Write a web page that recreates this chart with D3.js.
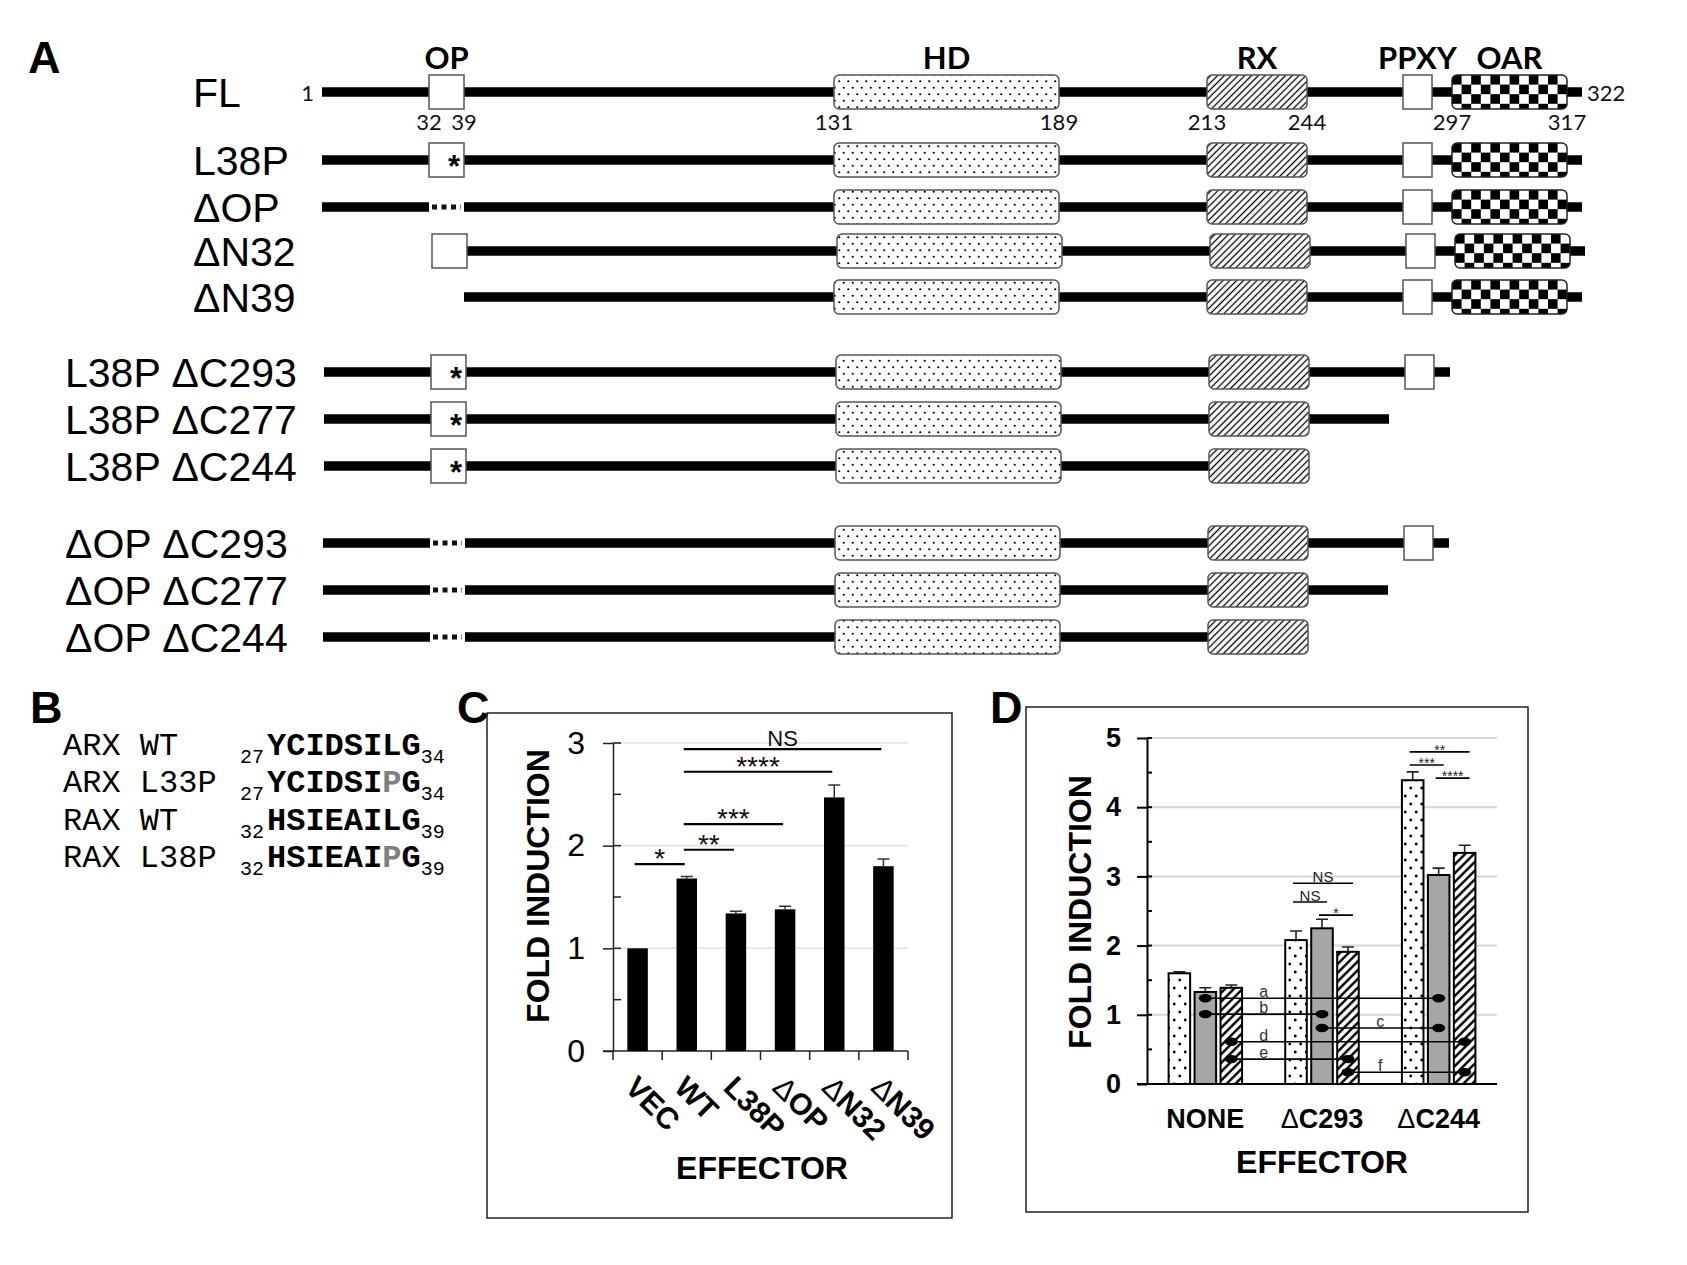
<!DOCTYPE html>
<html>
<head>
<meta charset="utf-8">
<script src="https://cdn.jsdelivr.net/npm/d3@7"></script>
<style>
  body { margin: 0; background: #fff; }
  svg { display: block; }
</style>
</head>
<body>
<div id="fig"></div>
<script>
// ---------- Panel A: constructs ----------
const DOMAIN_KEYS = ["OP", "HD", "RX", "PPXY", "OAR"];
const DOMAIN_START = [32, 131, 213, 284, 297];
const DOMAIN_END = [39, 189, 244, 291, 317];
const RESIDUE_MARKS = [32, 39, 131, 189, 213, 244, 297, 317];
const PROTEIN_FIRST = 1;
const PROTEIN_LAST = 322;

const CONSTRUCT_NAMES = [
  "FL", "L38P", "ΔOP", "ΔN32", "ΔN39",
  "L38P ΔC293", "L38P ΔC277", "L38P ΔC244",
  "ΔOP ΔC293", "ΔOP ΔC277", "ΔOP ΔC244",
];
const CONSTRUCT_START = [1, 1, 1, 32, 39, 1, 1, 1, 1, 1, 1];
const CONSTRUCT_END = [322, 322, 322, 322, 322, 293, 277, 244, 293, 277, 244];
// OP state: wt box, L38P box with *, deleted (dotted), none
const CONSTRUCT_OP = ["wt", "L38P", "del", "wt", "none", "L38P", "L38P", "L38P", "del", "del", "del"];

// ---------- Panel B: sequences ----------
const B_NAMES = ["ARX WT", "ARX L33P", "RAX WT", "RAX L38P"];
const B_FIRST = ["27", "27", "32", "32"];
const B_LAST = ["34", "34", "39", "39"];
const B_SEQ = ["YCIDSILG", "YCIDSIPG", "HSIEAILG", "HSIEAIPG"];
const B_MUTATED = [-1, 6, -1, 6];

// ---------- Panel C ----------
const C_CATEGORIES = ["VEC", "WT", "L38P", "ΔOP", "ΔN32", "ΔN39"];
const C_VALUES = [1.0, 1.68, 1.34, 1.38, 2.47, 1.80];
const C_ERRORS = [0.0, 0.02, 0.02, 0.03, 0.12, 0.07];
const C_SIG_FROM = ["VEC", "WT", "WT", "WT", "WT"];
const C_SIG_TO = ["WT", "L38P", "ΔOP", "ΔN32", "ΔN39"];
const C_SIG_LEVEL = [1.82, 1.96, 2.21, 2.72, 2.94];
const C_SIG_LABEL = ["*", "**", "***", "****", "NS"];

// ---------- Panel D ----------
const D_GROUPS = ["NONE", "ΔC293", "ΔC244"];
const D_SERIES = ["dotted", "gray", "hatched"];
const D_VALUES = [
  [1.60, 1.33, 1.39],
  [2.08, 2.25, 1.91],
  [4.39, 3.02, 3.34],
];
const D_ERRORS = [
  [0.02, 0.06, 0.04],
  [0.13, 0.13, 0.07],
  [0.12, 0.10, 0.11],
];
const D_SIG_GROUP = ["ΔC293", "ΔC293", "ΔC293", "ΔC244", "ΔC244", "ΔC244"];
const D_SIG_A = ["dotted", "dotted", "gray", "dotted", "dotted", "gray"];
const D_SIG_B = ["hatched", "gray", "hatched", "hatched", "gray", "hatched"];
const D_SIG_LEVEL = [2.90, 2.63, 2.44, 4.80, 4.61, 4.42];
const D_SIG_LABEL = ["NS", "NS", "*", "**", "***", "****"];
const D_LINK_LABEL = ["a", "b", "c", "d", "e", "f"];
const D_LINK_SERIES = ["gray", "gray", "gray", "hatched", "hatched", "hatched"];
const D_LINK_FROM = ["NONE", "NONE", "ΔC293", "NONE", "NONE", "ΔC293"];
const D_LINK_TO = ["ΔC244", "ΔC293", "ΔC244", "ΔC244", "ΔC293", "ΔC244"];
const D_LINK_LEVEL = [1.24, 1.01, 0.81, 0.61, 0.36, 0.17];

// ---------- layout ----------
const W = 1687, H = 1265;
const SANS = "'Liberation Sans', Arial, sans-serif";
const CAL = "Lato, 'Open Sans', sans-serif";
const MONO = "'Liberation Mono', 'Courier New', monospace";

const ROW_Y = [92, 160, 207, 251, 297, 372, 419, 466, 543, 590, 637];
const ROW_DX = [0, 0, 0, 3, 0, 2, 2, 2, 1, 1, 1];
const LABEL_X = [193, 193, 193, 193, 193, 65, 65, 65, 65, 65, 65];

const svg = d3.select("#fig").append("svg")
  .attr("width", W).attr("height", H)
  .attr("viewBox", `0 0 ${W} ${H}`);
const defs = svg.append("defs");

// patterns
function dotPattern(id, w, h, r) {
  const p = defs.append("pattern").attr("id", id)
    .attr("patternUnits", "userSpaceOnUse").attr("width", w).attr("height", h);
  p.append("rect").attr("width", w).attr("height", h).attr("fill", "#fff");
  p.append("circle").attr("cx", w * 0.25).attr("cy", h * 0.25).attr("r", r).attr("fill", "#000");
  p.append("circle").attr("cx", w * 0.75).attr("cy", h * 0.75).attr("r", r).attr("fill", "#000");
}
function hatchPattern(id, gap, lw) {
  const p = defs.append("pattern").attr("id", id)
    .attr("patternUnits", "userSpaceOnUse").attr("width", gap).attr("height", gap)
    .attr("patternTransform", "rotate(45)");
  p.append("rect").attr("width", gap).attr("height", gap).attr("fill", "#fff");
  p.append("line").attr("x1", gap / 2).attr("x2", gap / 2).attr("y1", 0).attr("y2", gap)
    .attr("stroke", "#000").attr("stroke-width", lw);
}
dotPattern("dotsA", 9, 13, 1.1);
hatchPattern("hatchA", 4.8, 1.3);
dotPattern("dotsD", 11, 16, 1.4);
hatchPattern("hatchD", 6.2, 2.4);

function checkerPattern(id, x, y, s) {
  const p = defs.append("pattern").attr("id", id)
    .attr("patternUnits", "userSpaceOnUse")
    .attr("x", x).attr("y", y).attr("width", 2 * s).attr("height", 2 * s);
  p.append("rect").attr("width", 2 * s).attr("height", 2 * s).attr("fill", "#fff");
  p.append("rect").attr("width", s).attr("height", s).attr("fill", "#000");
  p.append("rect").attr("x", s).attr("y", s).attr("width", s).attr("height", s).attr("fill", "#000");
}

// panel letters
[["A", 28, 73], ["B", 30, 723], ["C", 457, 723], ["D", 990, 723]].forEach(([t, x, y]) => {
  svg.append("text").attr("x", x).attr("y", y).text(t)
    .attr("font-family", SANS).attr("font-weight", "bold").attr("font-size", 45);
});

// ================= Panel A =================
// schematic (not-to-scale) residue -> x mapping
const xRes = d3.scaleLinear()
  .domain([1, 32, 39, 131, 189, 213, 244, 277, 284, 291, 293, 297, 317, 322])
  .range([322, 429, 464, 834, 1059, 1207, 1307, 1387, 1403, 1432, 1448, 1452, 1567, 1582]);

const gA = svg.append("g");
const BOX_H = 34;

CONSTRUCT_NAMES.forEach((name, i) => {
  const y = ROW_Y[i];
  const x = (r) => xRes(r) + ROW_DX[i];
  const s = CONSTRUCT_START[i], e = CONSTRUCT_END[i], op = CONSTRUCT_OP[i];
  const g = gA.append("g");

  const seg = (a, b) => g.append("line")
    .attr("x1", x(a)).attr("x2", x(b)).attr("y1", y).attr("y2", y)
    .attr("stroke", "#000").attr("stroke-width", 9.5);

  if (op === "del") {
    seg(s, 32);
    g.append("line")
      .attr("x1", x(32) + 3).attr("x2", x(39) - 3).attr("y1", y).attr("y2", y)
      .attr("stroke", "#111").attr("stroke-width", 5)
      .attr("stroke-dasharray", "5,4.5");
    seg(39, e);
  } else {
    seg(s, e);
  }

  DOMAIN_KEYS.forEach((key, k) => {
    const ds = DOMAIN_START[k], de = DOMAIN_END[k];
    if (ds < s || de > e) return;
    if (key === "OP" && (op === "del" || op === "none")) return;
    const bx = x(ds), bw = x(de) - x(ds), by = y - BOX_H / 2;
    let fill = "#fff", rx = 0, stroke = "#555";
    if (key === "HD") { fill = "url(#dotsA)"; rx = 5; }
    if (key === "RX") { fill = "url(#hatchA)"; rx = 5; }
    if (key === "OAR") {
      checkerPattern(`chk${i}`, bx, by, 9.6);
      fill = `url(#chk${i})`; rx = 5; stroke = "#222";
    }
    g.append("rect").attr("x", bx).attr("y", by).attr("width", bw).attr("height", BOX_H)
      .attr("rx", rx).attr("fill", fill).attr("stroke", stroke).attr("stroke-width", 1.5);
    if (key === "OP" && op === "L38P") {
      g.append("text").attr("x", x(de) - 10).attr("y", y + 17).text("*")
        .attr("text-anchor", "middle").attr("font-family", SANS)
        .attr("font-weight", "bold").attr("font-size", 31);
    }
  });

  g.append("text").attr("x", LABEL_X[i]).attr("y", y + 15).text(name)
    .attr("font-family", SANS).attr("font-size", 41).attr("fill", "#000");

  if (i === 0) {
    // domain titles
    DOMAIN_KEYS.forEach((key, k) => {
      g.append("text")
        .attr("x", (x(DOMAIN_START[k]) + x(DOMAIN_END[k])) / 2).attr("y", 69)
        .attr("text-anchor", "middle").text(key)
        .attr("font-family", CAL).attr("font-weight", "bold").attr("font-size", 31);
    });
    // residue numbers
    RESIDUE_MARKS.forEach((r) => {
      g.append("text").attr("x", x(r)).attr("y", y + 38).attr("text-anchor", "middle")
        .text(r).attr("font-family", CAL).attr("font-size", 22).attr("fill", "#111");
    });
    g.append("text").attr("x", x(PROTEIN_FIRST) - 8).attr("y", y + 9)
      .attr("text-anchor", "end").text(PROTEIN_FIRST)
      .attr("font-family", CAL).attr("font-size", 22).attr("fill", "#111");
    g.append("text").attr("x", x(PROTEIN_LAST) + 5).attr("y", y + 9)
      .text(PROTEIN_LAST)
      .attr("font-family", CAL).attr("font-size", 22).attr("fill", "#111");
  }
});

// ================= Panel B =================
const B_ROW_Y = [755, 792, 830, 867];
B_NAMES.forEach((name, i) => {
  const t = svg.append("text").attr("y", B_ROW_Y[i])
    .attr("font-family", MONO).attr("fill", "#000");
  t.append("tspan").attr("x", 63).attr("font-size", 32).text(name);
  t.append("tspan").attr("x", 240).attr("dy", 8).attr("font-size", 20).text(B_FIRST[i]);
  const seq = B_SEQ[i];
  seq.split("").forEach((ch, j) => {
    const sp = t.append("tspan").attr("font-size", 32).attr("font-weight", "bold")
      .attr("fill", j === B_MUTATED[i] ? "#808080" : "#000").text(ch);
    if (j === 0) sp.attr("x", 267).attr("dy", -8);
  });
  t.append("tspan").attr("dy", 8).attr("font-size", 20).text(B_LAST[i]);
});

// ================= Panel C =================
const gC = svg.append("g");
gC.append("rect").attr("x", 487).attr("y", 713).attr("width", 465).attr("height", 505)
  .attr("fill", "none").attr("stroke", "#222").attr("stroke-width", 1.5);

const xC = d3.scaleBand().domain(C_CATEGORIES).range([613, 908])
  .paddingInner(0.583).paddingOuter(0.2915);
const yC = d3.scaleLinear().domain([0, 3]).range([1051, 743]);
const cx = (c) => xC(c) + xC.bandwidth() / 2;

// gridlines
gC.selectAll("line.grid").data([1, 2, 3]).join("line").attr("class", "grid")
  .attr("x1", 613).attr("x2", 908).attr("y1", yC).attr("y2", yC)
  .attr("stroke", "#e3e3e3").attr("stroke-width", 1.5);

// y axis
const axC = gC.append("g").attr("transform", "translate(613,0)")
  .call(d3.axisLeft(yC).tickValues([0, 1, 2, 3]).tickFormat(d3.format("d"))
    .tickSize(10).tickPadding(18).tickSizeOuter(0));
axC.select(".domain").attr("stroke", "#222").attr("stroke-width", 1.5);
axC.selectAll(".tick line").attr("stroke", "#222").attr("stroke-width", 1.5);
axC.selectAll(".tick text").attr("font-family", SANS).attr("font-size", 32).attr("fill", "#000");
gC.selectAll("line.minor").data([0.5, 1, 1.5, 2, 2.5, 3]).join("line").attr("class", "minor")
  .attr("x1", 613).attr("x2", 621).attr("y1", yC).attr("y2", yC)
  .attr("stroke", "#222").attr("stroke-width", 1.5);

// x axis with boundary ticks
gC.append("line").attr("x1", 603).attr("x2", 908).attr("y1", yC(0)).attr("y2", yC(0))
  .attr("stroke", "#222").attr("stroke-width", 1.5);
gC.selectAll("line.xtick").data(d3.range(C_CATEGORIES.length + 1)).join("line")
  .attr("class", "xtick")
  .attr("x1", (i) => 613 + i * xC.step()).attr("x2", (i) => 613 + i * xC.step())
  .attr("y1", yC(0)).attr("y2", yC(0) + 9)
  .attr("stroke", "#222").attr("stroke-width", 1.5);

// bars + error bars
gC.selectAll("rect.bar").data(C_CATEGORIES).join("rect").attr("class", "bar")
  .attr("x", (c) => xC(c)).attr("width", xC.bandwidth())
  .attr("y", (c, i) => yC(C_VALUES[i])).attr("height", (c, i) => yC(0) - yC(C_VALUES[i]))
  .attr("fill", "#000");
C_CATEGORIES.forEach((c, i) => {
  if (!C_ERRORS[i]) return;
  const top = yC(C_VALUES[i] + C_ERRORS[i]);
  gC.append("path")
    .attr("d", `M${cx(c)},${yC(C_VALUES[i])}V${top}M${cx(c) - 6},${top}H${cx(c) + 6}`)
    .attr("stroke", "#333").attr("stroke-width", 1.5).attr("fill", "none");
});

// significance lines
C_SIG_LABEL.forEach((lab, i) => {
  const x1 = cx(C_SIG_FROM[i]) - 3, x2 = cx(C_SIG_TO[i]) - 2, y = yC(C_SIG_LEVEL[i]);
  gC.append("line").attr("x1", x1).attr("x2", x2).attr("y1", y).attr("y2", y)
    .attr("stroke", "#000").attr("stroke-width", 2.2);
  gC.append("text").attr("x", (x1 + x2) / 2).attr("y", lab === "NS" ? y - 3 : y + 4)
    .attr("text-anchor", "middle").text(lab)
    .attr("font-family", SANS).attr("font-size", lab === "NS" ? 22 : 28).attr("fill", "#111");
});

// category labels (rotated)
C_CATEGORIES.forEach((c) => {
  const t = gC.append("text")
    .attr("transform", `translate(${cx(c) - 14},1089) rotate(45)`)
    .attr("font-family", SANS).attr("font-weight", "bold").attr("font-size", 30);
  if (c.startsWith("Δ")) {
    t.append("tspan").attr("font-weight", "normal").text("Δ");
    t.append("tspan").text(c.slice(1));
  } else t.text(c);
});

gC.append("text").attr("transform", "translate(549,886) rotate(-90)")
  .attr("text-anchor", "middle").text("FOLD INDUCTION")
  .attr("font-family", SANS).attr("font-weight", "bold").attr("font-size", 32);
gC.append("text").attr("x", 762).attr("y", 1179).attr("text-anchor", "middle")
  .text("EFFECTOR").attr("font-family", SANS).attr("font-weight", "bold").attr("font-size", 32);

// ================= Panel D =================
const gD = svg.append("g");
gD.append("rect").attr("x", 1026).attr("y", 707).attr("width", 502).attr("height", 505)
  .attr("fill", "none").attr("stroke", "#222").attr("stroke-width", 1.5);

const xD = d3.scaleBand().domain(D_GROUPS).range([1147, 1497])
  .paddingInner(0.37).paddingOuter(0.185);
const xS = d3.scaleBand().domain(D_SERIES).range([0, xD.bandwidth()]).paddingInner(0.17);
const yD = d3.scaleLinear().domain([0, 5]).range([1084, 738]);
const sx = (g, s) => xD(g) + xS(s) + xS.bandwidth() / 2;
const SERIES_FILL = { dotted: "url(#dotsD)", gray: "#a6a6a6", hatched: "url(#hatchD)" };

gD.selectAll("line.grid").data([1, 2, 3, 4, 5]).join("line").attr("class", "grid")
  .attr("x1", 1147).attr("x2", 1497).attr("y1", yD).attr("y2", yD)
  .attr("stroke", "#d6d6d6").attr("stroke-width", 2);

const axD = gD.append("g").attr("transform", "translate(1147,0)")
  .call(d3.axisLeft(yD).tickValues([0, 1, 2, 3, 4, 5]).tickFormat(d3.format("d"))
    .tickSize(10).tickPadding(16).tickSizeOuter(0));
axD.select(".domain").attr("stroke", "#000").attr("stroke-width", 2);
axD.selectAll(".tick line").attr("stroke", "#000").attr("stroke-width", 2);
axD.selectAll(".tick text").attr("font-family", SANS).attr("font-weight", "bold")
  .attr("font-size", 27).attr("fill", "#000");
gD.selectAll("line.minor").data([0.5, 1, 1.5, 2, 2.5, 3, 3.5, 4, 4.5, 5]).join("line")
  .attr("class", "minor")
  .attr("x1", 1147).attr("x2", 1152).attr("y1", yD).attr("y2", yD)
  .attr("stroke", "#000").attr("stroke-width", 2);
gD.append("line").attr("x1", 1137).attr("x2", 1497).attr("y1", yD(0)).attr("y2", yD(0))
  .attr("stroke", "#000").attr("stroke-width", 2);

D_GROUPS.forEach((grp, gi) => {
  D_SERIES.forEach((s, si) => {
    const v = D_VALUES[gi][si], err = D_ERRORS[gi][si];
    const bx = xD(grp) + xS(s), c = sx(grp, s);
    const top = yD(v + err);
    gD.append("path")
      .attr("d", `M${c},${yD(v)}V${top}M${c - 6},${top}H${c + 6}`)
      .attr("stroke", "#222").attr("stroke-width", 1.6).attr("fill", "none");
    gD.append("rect").attr("x", bx).attr("width", xS.bandwidth())
      .attr("y", yD(v)).attr("height", yD(0) - yD(v))
      .attr("fill", SERIES_FILL[s]).attr("stroke", "#000").attr("stroke-width", 2);
  });
});

// significance brackets
D_SIG_LABEL.forEach((lab, i) => {
  const x1 = sx(D_SIG_GROUP[i], D_SIG_A[i]) - 3;
  const x2 = sx(D_SIG_GROUP[i], D_SIG_B[i]) + 5;
  const y = yD(D_SIG_LEVEL[i]);
  gD.append("line").attr("x1", x1).attr("x2", x2).attr("y1", y).attr("y2", y)
    .attr("stroke", "#000").attr("stroke-width", 1.6);
  gD.append("text").attr("x", (x1 + x2) / 2).attr("y", lab === "NS" ? y - 1 : y + 3)
    .attr("text-anchor", "middle").text(lab)
    .attr("font-family", SANS).attr("font-size", lab === "NS" ? 15 : 14).attr("fill", "#222");
});

// comparison links a-f
D_LINK_LABEL.forEach((lab, i) => {
  const s = D_LINK_SERIES[i];
  const x1 = sx(D_LINK_FROM[i], s), x2 = sx(D_LINK_TO[i], s), y = yD(D_LINK_LEVEL[i]);
  gD.append("line").attr("x1", x1).attr("x2", x2).attr("y1", y).attr("y2", y)
    .attr("stroke", "#000").attr("stroke-width", 1.6);
  [x1, x2].forEach((ex) => gD.append("ellipse").attr("cx", ex).attr("cy", y)
    .attr("rx", 6.5).attr("ry", 4.2).attr("fill", "#000"));
  const gapMid = xD(D_LINK_FROM[i]) + xD.bandwidth() + (xD.step() - xD.bandwidth()) / 2;
  gD.append("text").attr("x", gapMid).attr("y", y - 1).attr("text-anchor", "middle")
    .text(lab).attr("font-family", SANS).attr("font-size", 16).attr("fill", "#333");
});

D_GROUPS.forEach((grp) => {
  const t = gD.append("text").attr("x", xD(grp) + xD.bandwidth() / 2).attr("y", 1128)
    .attr("text-anchor", "middle")
    .attr("font-family", SANS).attr("font-weight", "bold").attr("font-size", 27);
  if (grp.startsWith("Δ")) {
    t.append("tspan").attr("font-weight", "normal").text("Δ");
    t.append("tspan").text(grp.slice(1));
  } else t.text(grp);
});

gD.append("text").attr("transform", "translate(1091,912) rotate(-90)")
  .attr("text-anchor", "middle").text("FOLD INDUCTION")
  .attr("font-family", SANS).attr("font-weight", "bold").attr("font-size", 32);
gD.append("text").attr("x", 1322).attr("y", 1173).attr("text-anchor", "middle")
  .text("EFFECTOR").attr("font-family", SANS).attr("font-weight", "bold").attr("font-size", 32);
</script>
</body>
</html>
